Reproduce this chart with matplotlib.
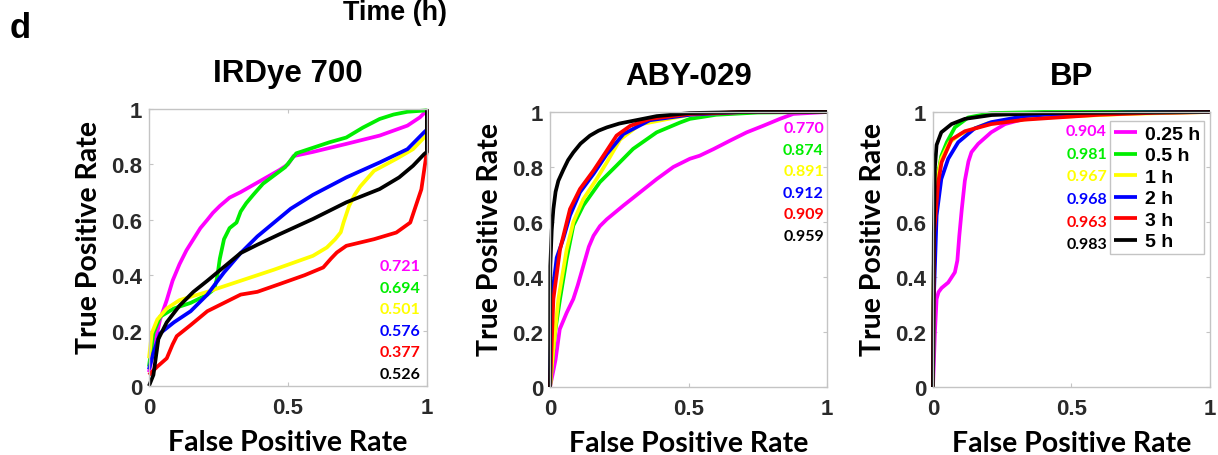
import matplotlib
matplotlib.use("Agg")
import matplotlib.pyplot as plt

# ---- data (FPR, TPR pairs per time point) ----
TIMES = ["0.25 h", "0.5 h", "1 h", "2 h", "3 h", "5 h"]
COLORS = ["#ff00ff", "#00ee00", "#ffff00", "#0000ff", "#ff0000", "#000000"]

# IRDye 700
IRD_025_FPR = [0, 0.016, 0.04, 0.064, 0.085, 0.11, 0.135, 0.16, 0.185, 0.21, 0.23, 0.255, 0.29, 0.33, 0.365, 0.40, 0.435, 0.47, 0.50, 0.52, 0.59, 0.71, 0.83, 0.93, 0.975, 1.0]
IRD_025_TPR = [0.05, 0.13, 0.24, 0.31, 0.38, 0.44, 0.49, 0.53, 0.57, 0.60, 0.625, 0.65, 0.68, 0.70, 0.72, 0.74, 0.76, 0.78, 0.80, 0.83, 0.845, 0.874, 0.904, 0.94, 0.97, 0.995]
IRD_05_FPR = [0, 0.016, 0.04, 0.09, 0.15, 0.21, 0.235, 0.245, 0.255, 0.27, 0.29, 0.315, 0.33, 0.35, 0.375, 0.41, 0.45, 0.49, 0.53, 0.59, 0.65, 0.71, 0.77, 0.83, 0.88, 0.93, 1.0]
IRD_05_TPR = [0.07, 0.19, 0.25, 0.28, 0.30, 0.33, 0.35, 0.39, 0.46, 0.53, 0.57, 0.59, 0.63, 0.66, 0.69, 0.73, 0.76, 0.79, 0.84, 0.86, 0.88, 0.897, 0.933, 0.964, 0.98, 0.99, 0.995]
IRD_1_FPR = [0, 0.01, 0.03, 0.064, 0.11, 0.21, 0.33, 0.45, 0.59, 0.64, 0.67, 0.69, 0.70, 0.72, 0.74, 0.76, 0.81, 0.89, 0.95, 0.99, 1.0, 1.0]
IRD_1_TPR = [0.10, 0.19, 0.24, 0.28, 0.31, 0.34, 0.38, 0.42, 0.47, 0.50, 0.53, 0.555, 0.59, 0.65, 0.69, 0.72, 0.777, 0.82, 0.855, 0.897, 0.91, 1.0]
IRD_2_FPR = [0, 0.016, 0.04, 0.09, 0.15, 0.21, 0.27, 0.33, 0.39, 0.45, 0.51, 0.59, 0.71, 0.83, 0.93, 0.99, 1.0, 1.0]
IRD_2_TPR = [0.06, 0.12, 0.19, 0.23, 0.27, 0.33, 0.41, 0.48, 0.54, 0.59, 0.64, 0.69, 0.753, 0.807, 0.855, 0.916, 0.925, 1.0]
IRD_3_FPR = [0, 0.03, 0.064, 0.085, 0.10, 0.15, 0.21, 0.27, 0.33, 0.39, 0.47, 0.56, 0.627, 0.655, 0.676, 0.71, 0.81, 0.89, 0.94, 0.96, 0.98, 0.995, 1.0, 1.0]
IRD_3_TPR = [0.04, 0.07, 0.10, 0.15, 0.18, 0.22, 0.27, 0.30, 0.33, 0.34, 0.368, 0.40, 0.428, 0.46, 0.482, 0.506, 0.53, 0.554, 0.59, 0.65, 0.71, 0.813, 0.85, 1.0]
IRD_5_FPR = [0, 0.016, 0.034, 0.064, 0.11, 0.16, 0.21, 0.27, 0.33, 0.39, 0.47, 0.59, 0.71, 0.83, 0.90, 0.95, 0.99, 1.0, 1.0]
IRD_5_TPR = [0, 0.04, 0.17, 0.23, 0.29, 0.34, 0.38, 0.43, 0.48, 0.51, 0.548, 0.603, 0.663, 0.711, 0.753, 0.795, 0.837, 0.845, 1.0]
IRD_AUC = ["0.721", "0.694", "0.501", "0.576", "0.377", "0.526"]

# ABY-029
ABY_025_FPR = [0, 0.02, 0.035, 0.06, 0.084, 0.10, 0.12, 0.14, 0.157, 0.18, 0.205, 0.265, 0.325, 0.385, 0.445, 0.505, 0.54, 0.59, 0.65, 0.71, 0.77, 0.83, 0.878, 1.0]
ABY_025_TPR = [0, 0.10, 0.21, 0.27, 0.32, 0.37, 0.44, 0.51, 0.55, 0.585, 0.61, 0.66, 0.708, 0.756, 0.80, 0.83, 0.841, 0.865, 0.896, 0.926, 0.95, 0.975, 0.993, 1.0]
ABY_05_FPR = [0, 0.018, 0.036, 0.06, 0.084, 0.12, 0.18, 0.24, 0.30, 0.385, 0.47, 0.505, 0.60, 0.75, 1.0]
ABY_05_TPR = [0, 0.20, 0.32, 0.466, 0.587, 0.66, 0.745, 0.805, 0.866, 0.926, 0.962, 0.975, 0.99, 0.998, 1.0]
ABY_1_FPR = [0, 0.012, 0.03, 0.06, 0.084, 0.12, 0.168, 0.205, 0.253, 0.325, 0.505, 0.70, 1.0]
ABY_1_TPR = [0, 0.14, 0.32, 0.50, 0.60, 0.683, 0.756, 0.817, 0.90, 0.955, 0.99, 1.0, 1.0]
ABY_2_FPR = [0, 0.006, 0.024, 0.048, 0.072, 0.108, 0.157, 0.205, 0.265, 0.36, 0.505, 0.70, 1.0]
ABY_2_TPR = [0, 0.32, 0.47, 0.54, 0.624, 0.708, 0.775, 0.847, 0.92, 0.97, 0.99, 1.0, 1.0]
ABY_3_FPR = [0, 0.012, 0.036, 0.072, 0.108, 0.157, 0.205, 0.24, 0.29, 0.36, 0.505, 0.70, 1.0]
ABY_3_TPR = [0, 0.32, 0.50, 0.647, 0.72, 0.787, 0.86, 0.914, 0.95, 0.975, 0.993, 1.0, 1.0]
ABY_5_FPR = [0, 0.001, 0.006, 0.012, 0.02, 0.030, 0.048, 0.065, 0.084, 0.11, 0.144, 0.175, 0.205, 0.25, 0.30, 0.385, 0.505, 0.70, 1.0]
ABY_5_TPR = [0, 0.44, 0.57, 0.647, 0.71, 0.75, 0.79, 0.825, 0.853, 0.885, 0.914, 0.932, 0.944, 0.958, 0.968, 0.985, 0.996, 1.0, 1.0]
ABY_AUC = ["0.770", "0.874", "0.891", "0.912", "0.909", "0.959"]

# BP
BP_025_FPR = [0, 0.007, 0.013, 0.02, 0.031, 0.055, 0.079, 0.088, 0.095, 0.104, 0.115, 0.128, 0.139, 0.163, 0.21, 0.26, 0.33, 0.404, 0.60, 1.0]
BP_025_TPR = [0, 0.20, 0.32, 0.345, 0.36, 0.38, 0.417, 0.46, 0.55, 0.647, 0.75, 0.82, 0.854, 0.884, 0.926, 0.956, 0.975, 0.987, 0.995, 1.0]
BP_05_FPR = [0, 0.003, 0.013, 0.03, 0.05, 0.079, 0.127, 0.21, 0.40, 1.0]
BP_05_TPR = [0, 0.44, 0.745, 0.84, 0.89, 0.944, 0.98, 0.996, 1.0, 1.0]
BP_1_FPR = [0, 0.004, 0.015, 0.03, 0.06, 0.10, 0.20, 0.40, 0.70, 1.0]
BP_1_TPR = [0, 0.50, 0.75, 0.83, 0.89, 0.92, 0.96, 0.98, 0.993, 1.0]
BP_2_FPR = [0, 0.003, 0.013, 0.03, 0.055, 0.091, 0.15, 0.21, 0.33, 0.404, 0.70, 1.0]
BP_2_TPR = [0, 0.32, 0.624, 0.756, 0.83, 0.89, 0.94, 0.963, 0.985, 0.99, 0.998, 1.0]
BP_3_FPR = [0, 0.004, 0.019, 0.031, 0.067, 0.115, 0.21, 0.33, 0.404, 0.60, 0.80, 1.0]
BP_3_TPR = [0, 0.56, 0.745, 0.817, 0.90, 0.93, 0.956, 0.972, 0.977, 0.99, 0.997, 1.0]
BP_5_FPR = [0, 0.003, 0.007, 0.013, 0.03, 0.067, 0.115, 0.212, 0.404, 1.0]
BP_5_TPR = [0, 0.56, 0.80, 0.88, 0.926, 0.956, 0.975, 0.989, 0.996, 1.0]
BP_AUC = ["0.904", "0.981", "0.967", "0.968", "0.963", "0.983"]

PANELS = [
    ("IRDye 700",
     [(IRD_025_FPR, IRD_025_TPR), (IRD_05_FPR, IRD_05_TPR), (IRD_1_FPR, IRD_1_TPR),
      (IRD_2_FPR, IRD_2_TPR), (IRD_3_FPR, IRD_3_TPR), (IRD_5_FPR, IRD_5_TPR)],
     IRD_AUC),
    ("ABY-029",
     [(ABY_025_FPR, ABY_025_TPR), (ABY_05_FPR, ABY_05_TPR), (ABY_1_FPR, ABY_1_TPR),
      (ABY_2_FPR, ABY_2_TPR), (ABY_3_FPR, ABY_3_TPR), (ABY_5_FPR, ABY_5_TPR)],
     ABY_AUC),
    ("BP",
     [(BP_025_FPR, BP_025_TPR), (BP_05_FPR, BP_05_TPR), (BP_1_FPR, BP_1_TPR),
      (BP_2_FPR, BP_2_TPR), (BP_3_FPR, BP_3_TPR), (BP_5_FPR, BP_5_TPR)],
     BP_AUC),
]

ARIAL = "Liberation Sans"
CALIBRI = "Lato"
TICK_COLOR = "#2a2a2a"
BOX_COLOR = "#c4c4c4"

fig = plt.figure(figsize=(12.18, 4.56), dpi=100)

# axes rectangles (figure fraction)
AX_RECTS = [
    (0.1223, 0.1513, 0.2282, 0.6075),
    (0.4516, 0.1491, 0.2274, 0.6031),
    (0.7660, 0.1491, 0.2274, 0.6031),
]
# where the AUC column sits (axes fraction): right edge x, first row y, row step
AUC_POS = [(0.978, 0.433, 0.078), (0.989, 0.942, 0.0785), (0.628, 0.931, 0.0825)]

for i, (title, curves, aucs) in enumerate(PANELS):
    ax = fig.add_axes(AX_RECTS[i])
    for (fpr, tpr), color, label in zip(curves, COLORS, TIMES):
        ax.plot(fpr, tpr, color=color, lw=2.7, label=label, clip_on=False,
                solid_joinstyle="round", solid_capstyle="butt")
    ax.set_xlim(0, 1)
    ax.set_ylim(0, 1)
    ax.set_xticks([0, 0.5, 1])
    ax.set_xticklabels(["0", "0.5", "1"])
    ax.set_yticks([0, 0.2, 0.4, 0.6, 0.8, 1])
    ax.set_yticklabels(["0", "0.2", "0.4", "0.6", "0.8", "1"])
    ax.tick_params(direction="in", length=3, width=0.8, color=BOX_COLOR,
                   top=True, right=True, labelsize=16, labelcolor=TICK_COLOR)
    ax.tick_params(axis="x", pad=8)
    ax.tick_params(axis="y", pad=5)
    for lab in ax.get_xticklabels() + ax.get_yticklabels():
        lab.set_fontfamily(ARIAL)
        lab.set_fontweight("bold")
    for sp in ax.spines.values():
        sp.set_color(BOX_COLOR)
        sp.set_linewidth(1.0)

    ax.text(0.5, 1.10, title, transform=ax.transAxes, ha="center", va="baseline",
            fontsize=22.5, fontweight="bold", family=ARIAL, color="black")
    ax.text(0.5, -0.232, "False Positive Rate", transform=ax.transAxes, ha="center",
            va="baseline", fontsize=20.5, fontweight="bold", family=CALIBRI, color="black")
    ax.text(-0.215, 0.54, "True Positive Rate", transform=ax.transAxes, ha="center",
            va="center", rotation=90, fontsize=20.5, fontweight="bold", family=CALIBRI,
            color="black")

    ax_x, ax_y0, step = AUC_POS[i]
    for k, (val, color) in enumerate(zip(aucs, COLORS)):
        ax.text(ax_x, ax_y0 - k * step, val, transform=ax.transAxes, ha="right",
                va="center", fontsize=11.5, fontweight="bold", family=CALIBRI, color=color)

    if i == 2:
        leg = ax.legend(loc="upper right", bbox_to_anchor=(0.978, 0.966), borderaxespad=0,
                        prop={"family": ARIAL, "weight": "bold", "size": 14},
                        handlelength=1.2, handletextpad=0.4, labelspacing=0.2,
                        borderpad=0.2, fancybox=False, framealpha=1)
        leg.get_frame().set_edgecolor(BOX_COLOR)
        leg.get_frame().set_linewidth(1.0)

fig.text(0.0082, 0.9167, "d", ha="left", va="baseline", fontsize=25,
         fontweight="bold", family=ARIAL)
fig.text(395 / 1218, 0.957, "Time (h)", ha="center", va="baseline", fontsize=19.4,
         fontweight="bold", family=ARIAL)

fig.savefig("out.png", dpi=100)
